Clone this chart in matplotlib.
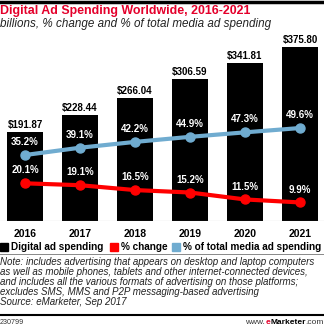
import numpy as np
import matplotlib.pyplot as plt
from matplotlib.lines import Line2D
from matplotlib.patches import Rectangle

plt.rcParams['font.family'] = ['Liberation Sans', 'DejaVu Sans']

years = ["2016", "2017", "2018", "2019", "2020", "2021"]
spending = [191.87, 228.44, 266.04, 306.59, 341.81, 375.80]
pct_change = [20.1, 19.1, 16.5, 15.2, 11.5, 9.9]
pct_total = [35.2, 39.1, 42.2, 44.9, 47.3, 49.6]

BLUE = "#70acd0"
RED = "#ff0000"

W, H = 324, 327
fig = plt.figure(figsize=(W / 100, H / 100), dpi=100)

def fy(py):
    # pixel row from top -> figure fraction
    return 1 - py / H

# header
fig.add_artist(Line2D([0, 1], [fy(1.5), fy(1.5)], color="black", lw=2.5))
fig.text(0.0, fy(11), "Digital Ad Spending Worldwide, 2016-2021", color="#e4002b",
         fontsize=8.9, fontweight="bold", va="center", ha="left")
fig.text(0.0, fy(24.5), "billions, % change and % of total media ad spending",
         fontsize=8.4, style="italic", va="center", ha="left", color="#222222")

# main chart
ax = fig.add_axes([0, fy(221), 1, (221 - 36) / H])
x = np.arange(len(years))
ax.bar(x, spending, width=0.66, color="black", zorder=1)
ax.set_ylim(0, 400)
ax.set_xlim(-25 / 55, (W - 25) / 55)
ax.axhline(0, color="#999999", lw=0.8)
for xi, v in zip(x, spending):
    ax.text(xi, v + 4, f"${v:.2f}", ha="center", va="bottom", fontsize=7,
            fontweight="bold")
ax.set_xticks(x)
ax.set_xticklabels(years, fontsize=7.5, fontweight="bold")
ax.tick_params(axis="x", length=0, pad=6)
ax.set_yticks([])
for s in ax.spines.values():
    s.set_visible(False)

ax2 = ax.twinx()
ax2.set_ylim(0, 98.7)
ax2.plot(x, pct_total, color=BLUE, lw=3, marker="o", ms=6.5, zorder=3)
ax2.plot(x, pct_change, color=RED, lw=3, marker="o", ms=6.5, zorder=3)
for xi, a, b in zip(x, pct_total, pct_change):
    ax2.text(xi, a + 4.2, f"{a:.1f}%", ha="center", va="bottom", color="white",
             fontsize=7, fontweight="bold")
    ax2.text(xi, b + 4.2, f"{b:.1f}%", ha="center", va="bottom", color="white",
             fontsize=7, fontweight="bold")
ax2.set_yticks([])
for s in ax2.spines.values():
    s.set_visible(False)

# legend, placed by hand
labels = ["Digital ad spending", "% change", "% of total media ad spending"]
colors = ["black", RED, BLUE]
starts = [0, 110, 172]
for lab, col, px in zip(labels, colors, starts):
    fig.add_artist(Rectangle((px / W, fy(251)), 8 / W, 8 / H, color=col,
                             transform=fig.transFigure))
    fig.text((px + 11) / W, fy(247), lab, fontsize=7.2, fontweight="bold",
             va="center", ha="left")

# notes
fig.add_artist(Line2D([0, 1], [fy(254), fy(254)], color="#888888", lw=0.7))
notes = ("Note: includes advertising that appears on desktop and laptop computers\n"
         "as well as mobile phones, tablets and other internet-connected devices,\n"
         "and includes all the various formats of advertising on those platforms;\n"
         "excludes SMS, MMS and P2P messaging-based advertising\n"
         "Source: eMarketer, Sep 2017")
fig.text(0.0, fy(257), notes, fontsize=7.0, style="italic", va="top", ha="left",
         linespacing=1.0, color="#222222")
fig.add_artist(Line2D([0, 1], [fy(315), fy(315)], color="black", lw=1.5))
fig.text(0.0, fy(322), "230799", fontsize=5.2, va="center", ha="left", color="#333333")

# footer logo text, built right to left
pieces = [(".com", "normal", "#333333"), ("Marketer", "bold", "black"),
          ("e", "bold", "#e4002b"), ("www.", "normal", "#333333")]
fig.canvas.draw()
renderer = fig.canvas.get_renderer()
right = 1.0
for txt, wt, col in pieces:
    t = fig.text(right, fy(322), txt, fontsize=6, fontweight=wt, color=col,
                 va="center", ha="right")
    right -= t.get_window_extent(renderer).width / W

fig.savefig("out.png", dpi=100)
